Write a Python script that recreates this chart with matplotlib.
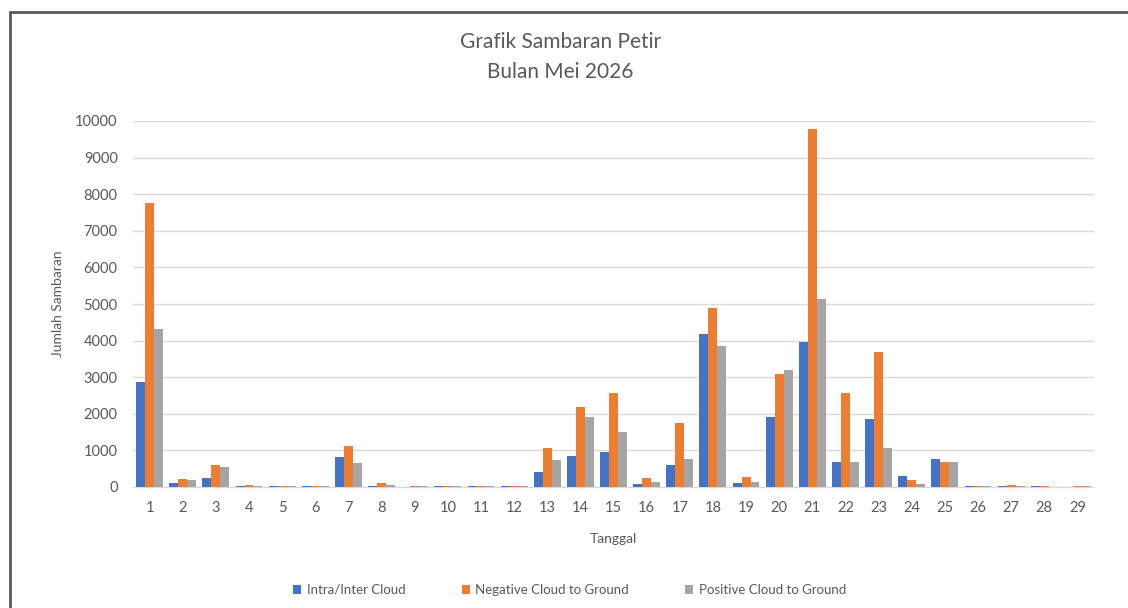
import numpy as np
from matplotlib import pyplot as plt
from matplotlib.patches import Rectangle

plt.rcParams['font.family'] = ['Lato', 'DejaVu Sans']

# Data
tanggal = [str(d) for d in range(1, 30)]
intra_inter = [2880, 100, 240, 30, 30, 20, 830, 40, 10, 20, 20, 20, 420, 850, 965,
               80, 600, 4170, 100, 1920, 3950, 670, 1860, 310, 760, 40, 40, 20, 10]
negative_cg = [7750, 230, 600, 50, 40, 40, 1120, 100, 30, 40, 30, 30, 1060, 2190, 2560,
               240, 1760, 4880, 280, 3090, 9770, 2580, 3680, 200, 670, 30, 50, 30, 20]
positive_cg = [4320, 200, 550, 30, 30, 30, 660, 60, 20, 20, 20, 20, 740, 1920, 1510,
               150, 760, 3850, 150, 3200, 5130, 670, 1060, 80, 680, 30, 40, 10, 30]
series_names = ["Intra/Inter Cloud", "Negative Cloud to Ground", "Positive Cloud to Ground"]
colors = ["#4472C4", "#ED7D31", "#A5A5A5"]

text_color = "#595959"

fig = plt.figure(figsize=(11.28, 6.08), dpi=100)
ax = fig.add_axes([133 / 1128, 1 - 487 / 608, 961 / 1128, 366 / 608])

x = np.arange(len(tanggal))
w = 0.27
for i, (vals, name, c) in enumerate(zip([intra_inter, negative_cg, positive_cg], series_names, colors)):
    ax.bar(x + (i - 1) * w, vals, width=w, color=c, label=name, zorder=3)

ax.set_xlim(-0.5, len(tanggal) - 0.5)
ax.set_ylim(0, 10000)
ax.set_yticks(range(0, 10001, 1000))
ax.set_xticks(x)
ax.set_xticklabels(tanggal)
ax.tick_params(length=0, labelsize=10.5, colors=text_color)
ax.tick_params(axis='x', pad=10)
ax.tick_params(axis='y', pad=11)
ax.grid(axis='y', color="#d9d9d9", linewidth=1, zorder=0)
for s in ['top', 'right', 'left']:
    ax.spines[s].set_visible(False)
ax.spines['bottom'].set_color("#d9d9d9")

ax.set_xlabel("Tanggal", fontsize=10, color=text_color, labelpad=13)
ax.set_ylabel("Jumlah Sambaran", fontsize=10, color=text_color, labelpad=8)

fig.text(0.497, 1 - 42 / 608, "Grafik Sambaran Petir", ha='center', va='center',
         fontsize=15, color=text_color)
fig.text(0.497, 1 - 72 / 608, "Bulan Mei 2026", ha='center', va='center',
         fontsize=15, color=text_color)

fig.legend(loc='center', bbox_to_anchor=(0.505, 1 - 590 / 608), ncol=3, frameon=False,
           fontsize=9.5, labelcolor=text_color, handlelength=0.6, handleheight=0.6,
           handletextpad=0.4, columnspacing=4.3)

# chart border
fig.patches.append(Rectangle((10 / 1128, -0.1), 1.2, 1.1 - 12 / 608, transform=fig.transFigure,
                             fill=False, edgecolor="#595959", linewidth=2))

fig.savefig("out.png", dpi=100, facecolor="white")
